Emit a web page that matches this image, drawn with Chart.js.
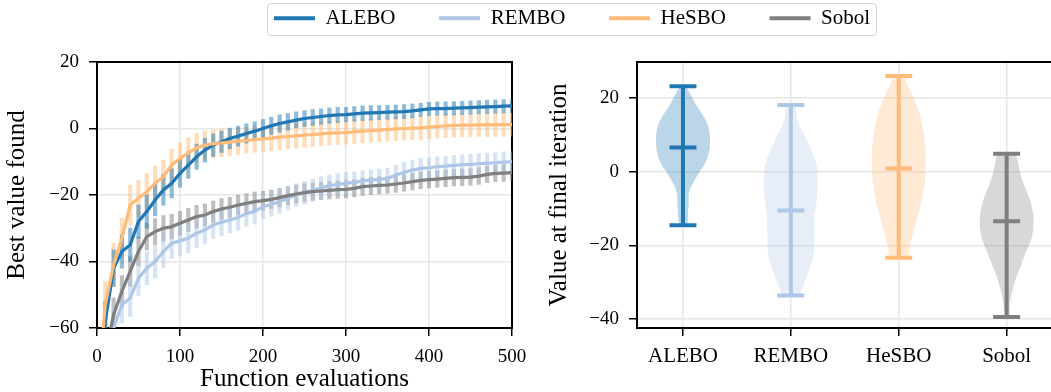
<!DOCTYPE html>
<html><head><meta charset="utf-8">
<script src="https://cdn.jsdelivr.net/npm/chart.js@4.4.1/dist/chart.umd.min.js"></script>
<style>
html,body{margin:0;padding:0;background:#fff;width:1051px;height:392px;overflow:hidden;position:relative;}
#left{position:absolute;left:0;top:0;}
#right{position:absolute;left:530px;top:0;}
#legendBox{position:absolute;left:267px;top:3px;width:610px;height:33px;box-sizing:border-box;border:1.5px solid #d2d2d2;border-radius:4px;overflow:hidden;background:#fff;}
#legend{position:absolute;left:-96.5px;top:-39.7px;}
</style></head>
<body>
<canvas id="left" width="530" height="392"></canvas>
<canvas id="right" width="530" height="392"></canvas>
<div id="legendBox"><canvas id="legend" width="800" height="200"></canvas></div>
<script>
// ---------------- data ----------------
const seriesNames = ['ALEBO', 'REMBO', 'HeSBO', 'Sobol'];

const evals = [0,10,20,30,40,50,60,70,80,90,
  100,110,120,130,140,150,160,170,180,190,
  200,210,220,230,240,250,260,270,280,290,
  300,310,320,330,340,350,360,370,380,390,
  400,410,420,430,440,450,460,470,480,490,500];

const aleboMean = [-90,-58,-42,-37,-35,-28,-25,-21.5,-18.5,-16.5,
  -13.5,-11,-8.5,-6.5,-5,-4,-3,-2.3,-1.5,-0.8,
  0,0.8,1.5,2,2.5,3,3.3,3.6,3.9,4.1,
  4.2,4.4,4.6,4.7,4.8,4.9,5.0,5.1,5.3,5.6,
  5.9,6.0,6.0,6.1,6.2,6.3,6.4,6.5,6.6,6.7,6.8];
const remboMean = [-95,-80,-60,-53,-51,-45,-42,-40,-37,-34.5,
  -33.8,-33,-31.5,-30.5,-29,-28.2,-27.5,-26.8,-25.6,-25,
  -23.5,-22.8,-22,-21,-20,-19.3,-18.5,-17.8,-17.2,-16.8,
  -16.5,-16.2,-15.8,-15.5,-15.3,-15,-14,-13.2,-12.5,-12,
  -11.8,-11.5,-11.3,-11.1,-10.9,-10.8,-10.6,-10.4,-10.3,-10.1,-10];
const hesboMean = [-80,-53,-41,-33,-23,-21,-19,-16.5,-14.5,-11,
  -9,-7.3,-5.8,-5,-4.6,-4.3,-4.1,-3.8,-3.6,-3.3,
  -3.1,-2.9,-2.6,-2.4,-2.2,-2.0,-1.8,-1.6,-1.4,-1.3,
  -1.2,-1.0,-0.8,-0.6,-0.5,-0.3,-0.1,0,0.1,0.2,
  0.4,0.6,0.8,0.9,1.0,1.0,1.1,1.1,1.1,1.2,1.2];
const sobolMean = [-90,-68,-56,-49,-43,-37,-32.5,-31,-30,-29.5,
  -28.5,-27.5,-26.5,-26,-25,-24.2,-23.7,-23,-22.5,-22,
  -21.7,-21.3,-20.8,-20.2,-19.7,-19.3,-19,-18.8,-18.6,-18.4,
  -18.3,-18,-17.5,-17.3,-17.1,-17.0,-16.7,-16.4,-16.0,-15.6,
  -15.4,-15.2,-15.0,-14.8,-14.7,-14.6,-14.3,-13.8,-13.5,-13.4,-13.3];

const aleboErr = [0,6,5.5,5,5,5,5,4.8,4.6,4.4,
  4.2,4,3.8,3.6,3.4,3.2,3.1,3,2.9,2.8,
  2.7,2.6,2.6,2.5,2.5,2.4,2.4,2.3,2.3,2.3,
  2.2,2.2,2.2,2.2,2.1,2.1,2.1,2.1,2.1,2,
  2,2,2,2,2,2,2,2,2,2,2];
const remboErr = [0,6,6,5.5,5.5,5.2,5,5,4.8,4.6,
  4.5,4.4,4.3,4.2,4.1,4,3.9,3.8,3.8,3.7,
  3.6,3.6,3.5,3.5,3.4,3.4,3.3,3.3,3.3,3.2,
  3.2,3.2,3.1,3.1,3.1,3.1,3,3,3,3,
  3,3,3,3,3,3,3,3,3,3,3];
const hesboErr = [0,7,6.5,6,6,5.5,5.5,5.2,5,4.8,
  4.6,4.5,4.4,4.3,4.2,4.1,4,4,3.9,3.9,
  3.8,3.8,3.8,3.7,3.7,3.7,3.6,3.6,3.6,3.6,
  3.5,3.5,3.5,3.5,3.5,3.5,3.5,3.5,3.5,3.5,
  3.5,3.5,3.5,3.5,3.5,3.5,3.5,3.5,3.5,3.5,3.5];
const sobolErr = [0,5,5,4.8,4.5,4.3,4,3.9,3.8,3.7,
  3.6,3.5,3.4,3.3,3.2,3.1,3,3,2.9,2.9,
  2.8,2.8,2.8,2.7,2.7,2.7,2.6,2.6,2.6,2.6,
  2.6,2.6,2.6,2.6,2.6,2.5,2.5,2.5,2.5,2.5,
  2.5,2.5,2.5,2.5,2.5,2.5,2.5,2.5,2.5,2.5,2.5];

const xTicksLeft = [0, 100, 200, 300, 400, 500];
const yTicksLeft = [-60, -40, -20, 0, 20];
const yTicksRight = [-40, -20, 0, 20];
const violinPositions = [1, 2, 3, 4];

// violin outlines: value levels and relative half-widths
const aleboViolinY = [-14.5,-12,-10,-8,-6,-4,-2,0,2,4,6,8,10,12,14,16,18,20,21.5,22.5,23.2];
const aleboViolinW = [0.15,0.18,0.19,0.2,0.22,0.3,0.45,0.62,0.8,0.92,0.98,1,1,0.95,0.85,0.68,0.5,0.35,0.24,0.17,0.12];
const remboViolinY = [-33.6,-30,-27,-24,-21,-18,-15,-12,-9,-6,-3,0,2,4,6,8,10,12,14,16,18.1];
const remboViolinW = [0.33,0.5,0.67,0.8,0.87,0.87,0.86,0.88,0.94,0.98,1,0.98,0.95,0.87,0.75,0.62,0.5,0.35,0.24,0.2,0.15];
const hesboViolinY = [-23.3,-20,-18,-16,-14,-12,-10,-8,-6,-4,-2,0,2,4,6,8,10,12,14,16,18,20,22,24,26];
const hesboViolinW = [0.36,0.42,0.48,0.55,0.63,0.7,0.78,0.84,0.9,0.94,0.97,0.99,1,1,0.99,0.97,0.94,0.89,0.84,0.76,0.66,0.55,0.43,0.3,0.2];
const sobolViolinY = [-39.4,-38,-36,-34,-32,-30,-28,-26,-24,-22,-20,-18,-16,-14,-12,-10,-8,-6,-4,-2,0,2,4,4.9];
const sobolViolinW = [0.09,0.1,0.12,0.16,0.22,0.3,0.39,0.5,0.6,0.71,0.83,0.93,0.98,1,0.99,0.95,0.88,0.78,0.67,0.57,0.49,0.44,0.38,0.35];

const finalMin = [-14.5, -33.6, -23.3, -39.4];
const finalMax = [23.2, 18.1, 26.0, 4.9];
const finalMean = [6.6, -10.5, 0.9, -13.4];

// ---------------- styles ----------------
const FONT = "'Liberation Serif', 'Times New Roman', serif";
const lineColors = ['#1f77b4', '#aec7e8', '#ffbb78', '#7f7f7f'];
const errColors = ['rgba(31,119,180,0.5)', 'rgba(174,199,232,0.5)', 'rgba(255,187,120,0.5)', 'rgba(127,127,127,0.5)'];
const bodyColors = ['rgba(31,119,180,0.3)', 'rgba(174,199,232,0.3)', 'rgba(255,187,120,0.3)', 'rgba(127,127,127,0.3)'];
const GRID = '#e6e6e6';
const VIOLIN_HALF = 0.25, CAP_HALF = 0.125;

Chart.defaults.color = '#000';
Chart.defaults.font.family = FONT;
Chart.defaults.animation = false;
Chart.defaults.plugins.tooltip.enabled = false;
Chart.defaults.events = [];

const minus = v => String(v).replace('-', '\u2212');
const noPad = s => { s.paddingLeft = 0; s.paddingRight = 0; s.paddingTop = 0; s.paddingBottom = 0; };

function frameAxis(pos) {
  return {
    position: pos, display: true, min: 0, max: 1,
    ticks: {display: false},
    grid: {display: true, drawOnChartArea: false, drawTicks: false},
    border: {display: true, color: '#000', width: 2},
    afterFit: s => { noPad(s); if (s.isHorizontal()) s.height = 0; else s.width = 0; }
  };
}

// ---------------- left chart ----------------
const means = [aleboMean, remboMean, hesboMean, sobolMean];
const errs = [aleboErr, remboErr, hesboErr, sobolErr];

const leftDatasets = [];
means.forEach((m, k) => {
  leftDatasets.push({
    type: 'line', label: seriesNames[k],
    data: evals.map((x, i) => ({x, y: m[i]})),
    borderColor: lineColors[k], borderWidth: 3.2, pointRadius: 0, tension: 0,
    fill: false, order: 4 - k
  });
});
errs.forEach((e, k) => {
  leftDatasets.push({
    type: 'bar', label: seriesNames[k] + ' err',
    data: evals.map((x, i) => ({x, y: [means[k][i] - e[i], means[k][i] + e[i]]})),
    backgroundColor: errColors[k], borderWidth: 0, barThickness: 3.5,
    grouped: false, order: 10
  });
});

new Chart(document.getElementById('left'), {
  type: 'line',
  data: {datasets: leftDatasets},
  options: {
    responsive: false, devicePixelRatio: 1,
    layout: {padding: {left: 0, top: 62, right: 18, bottom: 0}},
    plugins: {legend: {display: false}, tooltip: {enabled: false}},
    scales: {
      x: {
        type: 'linear', min: 0, max: 500, offset: false,
        afterBuildTicks: s => { s.ticks = xTicksLeft.map(v => ({value: v})); },
        ticks: {font: {size: 19}, color: '#000', padding: 10, maxRotation: 0, autoSkip: false, callback: v => minus(v)},
        grid: {color: GRID, lineWidth: 1.5, tickColor: '#000', tickLength: 8, tickWidth: 1.5, offset: false},
        border: {color: '#000', width: 2},
        title: {display: true, text: 'Function evaluations', font: {size: 25, lineHeight: 1}, color: '#000', padding: {top: 0, bottom: 0}},
        afterFit: s => { noPad(s); s.height = 64; }
      },
      y: {
        type: 'linear', min: -60, max: 20,
        afterBuildTicks: s => { s.ticks = yTicksLeft.map(v => ({value: v})); },
        ticks: {font: {size: 19}, color: '#000', padding: 10, callback: v => minus(v)},
        grid: {color: GRID, lineWidth: 1.5, tickColor: '#000', tickLength: 8, tickWidth: 1.5},
        border: {color: '#000', width: 2},
        title: {display: true, text: 'Best value found', font: {size: 25, lineHeight: 1}, color: '#000', padding: {top: 5, bottom: 0}},
        afterFit: s => { noPad(s); s.width = 97; }
      },
      x2: frameAxis('top'),
      y2: frameAxis('right')
    }
  }
});

// ---------------- right chart ----------------
const violinY = [aleboViolinY, remboViolinY, hesboViolinY, sobolViolinY];
const violinW = [aleboViolinW, remboViolinW, hesboViolinW, sobolViolinW];
const rightDatasets = [];
violinPositions.forEach((c, k) => {
  const ys = violinY[k], ws = violinW[k];
  const right = ys.map((y, i) => ({x: c + ws[i] * VIOLIN_HALF, y}));
  const left = ys.map((y, i) => ({x: c - ws[i] * VIOLIN_HALF, y})).reverse();
  rightDatasets.push({
    type: 'line', label: seriesNames[k] + ' body', data: right.concat(left),
    backgroundColor: bodyColors[k], borderWidth: 0, borderColor: 'rgba(0,0,0,0)',
    pointRadius: 0, fill: 'shape', tension: 0, order: 5
  });
  const lineDs = (pts) => ({
    type: 'line', data: pts, borderColor: lineColors[k], borderWidth: 4,
    pointRadius: 0, fill: false, tension: 0, borderCapStyle: 'butt', order: 1
  });
  rightDatasets.push(lineDs([{x: c, y: finalMin[k]}, {x: c, y: finalMax[k]}]));
  [finalMin[k], finalMax[k], finalMean[k]].forEach(v => {
    rightDatasets.push(lineDs([{x: c - CAP_HALF, y: v}, {x: c + CAP_HALF, y: v}]));
  });
});

new Chart(document.getElementById('right'), {
  type: 'line',
  data: {datasets: rightDatasets},
  options: {
    responsive: false, devicePixelRatio: 1,
    layout: {padding: {left: 0, top: 62, right: 7.4, bottom: 0}},
    plugins: {legend: {display: false}, tooltip: {enabled: false}},
    scales: {
      x: {
        type: 'linear', min: 0.574, max: 4.426, offset: false,
        afterBuildTicks: s => { s.ticks = violinPositions.map(v => ({value: v})); },
        ticks: {font: {size: 21}, color: '#000', padding: 8, maxRotation: 0, autoSkip: false,
          callback: v => seriesNames[violinPositions.indexOf(v)]},
        grid: {color: GRID, lineWidth: 1.5, tickColor: '#000', tickLength: 8, tickWidth: 1.5, offset: false},
        border: {color: '#000', width: 2},
        afterFit: s => { noPad(s); s.height = 64; }
      },
      y: {
        type: 'linear', min: -42.4, max: 29.8,
        afterBuildTicks: s => { s.ticks = yTicksRight.map(v => ({value: v})); },
        ticks: {font: {size: 19}, color: '#000', padding: 10, callback: v => minus(v)},
        grid: {color: GRID, lineWidth: 1.5, tickColor: '#000', tickLength: 8, tickWidth: 1.5},
        border: {color: '#000', width: 2},
        title: {display: true, text: 'Value at final iteration', font: {size: 25, lineHeight: 1}, color: '#000', padding: {top: 17, bottom: 0}},
        afterFit: s => { noPad(s); s.width = 107; }
      },
      x2: frameAxis('top'),
      y2: frameAxis('right')
    }
  }
});

// ---------------- legend ----------------
new Chart(document.getElementById('legend'), {
  type: 'line',
  data: {datasets: seriesNames.map((n, k) => ({
    label: n, data: [], backgroundColor: lineColors[k], borderColor: lineColors[k], borderWidth: 0
  }))},
  options: {
    responsive: false, devicePixelRatio: 1,
    layout: {padding: 0},
    scales: {x: {display: false}, y: {display: false}},
    plugins: {
      tooltip: {enabled: false},
      legend: {display: true, position: 'top', align: 'center',
        labels: {boxWidth: 41, boxHeight: 4, padding: 43.7, color: '#000', font: {size: 21}}}
    }
  }
});
</script>
</body></html>
